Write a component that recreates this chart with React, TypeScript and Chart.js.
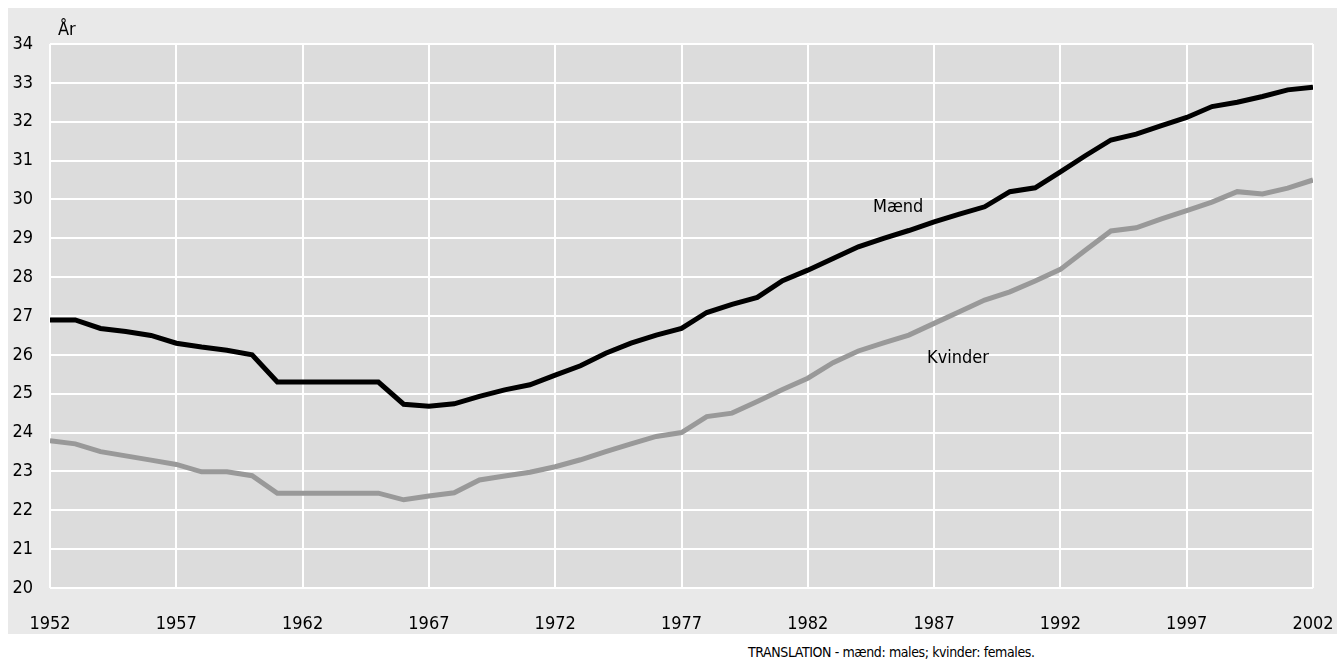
import React, { useEffect, useRef } from "react";
import { Chart, registerables } from "chart.js";

Chart.register(...registerables);

const years = [
  1952, 1953, 1954, 1955, 1956, 1957, 1958, 1959, 1960, 1961,
  1962, 1963, 1964, 1965, 1966, 1967, 1968, 1969, 1970, 1971,
  1972, 1973, 1974, 1975, 1976, 1977, 1978, 1979, 1980, 1981,
  1982, 1983, 1984, 1985, 1986, 1987, 1988, 1989, 1990, 1991,
  1992, 1993, 1994, 1995, 1996, 1997, 1998, 1999, 2000, 2001, 2002,
];

const maend = [
  26.9, 26.9, 26.68, 26.6, 26.5, 26.3, 26.2, 26.12, 26.0, 25.3,
  25.3, 25.3, 25.3, 25.3, 24.73, 24.68, 24.74, 24.93, 25.1, 25.23,
  25.48, 25.72, 26.04, 26.3, 26.51, 26.68, 27.09, 27.3, 27.48, 27.91,
  28.18, 28.48, 28.78, 29.0, 29.2, 29.42, 29.62, 29.81, 30.2, 30.3,
  30.71, 31.13, 31.53, 31.68, 31.9, 32.11, 32.39, 32.5, 32.65, 32.82, 32.89,
];

const kvinder = [
  23.79, 23.71, 23.51, 23.4, 23.29, 23.18, 22.99, 22.99, 22.89, 22.44,
  22.44, 22.44, 22.44, 22.44, 22.27, 22.37, 22.45, 22.78, 22.88, 22.98,
  23.12, 23.3, 23.51, 23.71, 23.9, 24.0, 24.41, 24.5, 24.8, 25.11,
  25.4, 25.8, 26.1, 26.31, 26.51, 26.81, 27.11, 27.41, 27.62, 27.9,
  28.2, 28.7, 29.19, 29.27, 29.5, 29.71, 29.93, 30.2, 30.14, 30.29, 30.5,
];

const yAxisTitle = "År";
const seriesLabels = ["Mænd", "Kvinder"];
const footnote = "TRANSLATION - mænd: males; kvinder: females.";

const FONT_FAMILY = "'Liberation Sans Narrow', 'DejaVu Sans Condensed', 'Roboto', sans-serif";

const chartDecor = {
  id: "chartDecor",
  beforeDraw(chart: any) {
    const { ctx, chartArea } = chart;
    ctx.save();
    ctx.fillStyle = "#dcdcdc";
    ctx.fillRect(chartArea.left, chartArea.top, chartArea.right - chartArea.left, chartArea.bottom - chartArea.top);
    ctx.restore();
  },
  afterDraw(chart: any) {
    const { ctx, chartArea, scales } = chart;
    ctx.save();
    ctx.fillStyle = "#000";
    ctx.textAlign = "left";
    ctx.textBaseline = "alphabetic";
    ctx.font = `18px ${FONT_FAMILY}`;
    ctx.fillText(yAxisTitle, chartArea.left + 8, chartArea.top - 9);
    const xM = scales.x.getPixelForValue(1984.58);
    const yM = scales.y.getPixelForValue(29.68);
    ctx.fillText(seriesLabels[0], xM, yM);
    const xK = scales.x.getPixelForValue(1986.72);
    const yK = scales.y.getPixelForValue(25.8);
    ctx.fillText(seriesLabels[1], xK, yK);
    ctx.restore();
  },
};

export default function App() {
  const canvasRef = useRef<HTMLCanvasElement | null>(null);

  useEffect(() => {
    if (!canvasRef.current) return;
    const chart = new Chart(canvasRef.current, {
      type: "line",
      data: {
        datasets: [
          {
            label: seriesLabels[0],
            data: years.map((y, i) => ({ x: y, y: maend[i] })),
            borderColor: "#000000",
            borderWidth: 5,
            pointRadius: 0,
            tension: 0,
            fill: false,
          },
          {
            label: seriesLabels[1],
            data: years.map((y, i) => ({ x: y, y: kvinder[i] })),
            borderColor: "#999999",
            borderWidth: 5,
            pointRadius: 0,
            tension: 0,
            fill: false,
          },
        ],
      },
      options: {
        animation: false,
        responsive: true,
        maintainAspectRatio: false,
        layout: { padding: { left: 0, top: 36, right: 24, bottom: 0 } },
        plugins: {
          legend: { display: false },
          tooltip: { enabled: false },
        },
        scales: {
          x: {
            type: "linear",
            min: 1952,
            max: 2002,
            afterFit: (s: any) => {
              s.height = 46;
              s.paddingLeft = 0;
              s.paddingRight = 0;
            },
            ticks: {
              stepSize: 5,
              padding: 26,
              color: "#000",
              font: { family: FONT_FAMILY, size: 18 },
              callback: (v: any) => String(v),
              maxRotation: 0,
              autoSkip: false,
            },
            grid: { color: "#ffffff", lineWidth: 2, drawTicks: false },
            border: { display: false },
          },
          y: {
            min: 20,
            max: 34,
            afterFit: (s: any) => {
              s.width = 42;
              s.paddingTop = 0;
              s.paddingBottom = 0;
            },
            ticks: {
              stepSize: 1,
              padding: 17,
              color: "#000",
              font: { family: FONT_FAMILY, size: 18 },
            },
            grid: { color: "#ffffff", lineWidth: 2, drawTicks: false },
            border: { display: false },
          },
        },
      },
      plugins: [chartDecor],
    });
    return () => chart.destroy();
  }, []);

  return (
    <div style={{ width: "100%" }}>
      <style>{`body { margin: 8px 0 0 8px; }`}</style>
      <div style={{ position: "relative", width: "100%", height: 626, background: "#e9e9e9" }}>
        <canvas ref={canvasRef} />
      </div>
      <div
        style={{
          marginTop: 10,
          paddingLeft: 740,
          fontFamily: FONT_FAMILY,
          fontSize: 14,
          letterSpacing: "-0.4px",
          color: "#000",
          whiteSpace: "nowrap",
          lineHeight: "17px",
          height: 17,
        }}
      >
        {footnote}
      </div>
    </div>
  );
}
